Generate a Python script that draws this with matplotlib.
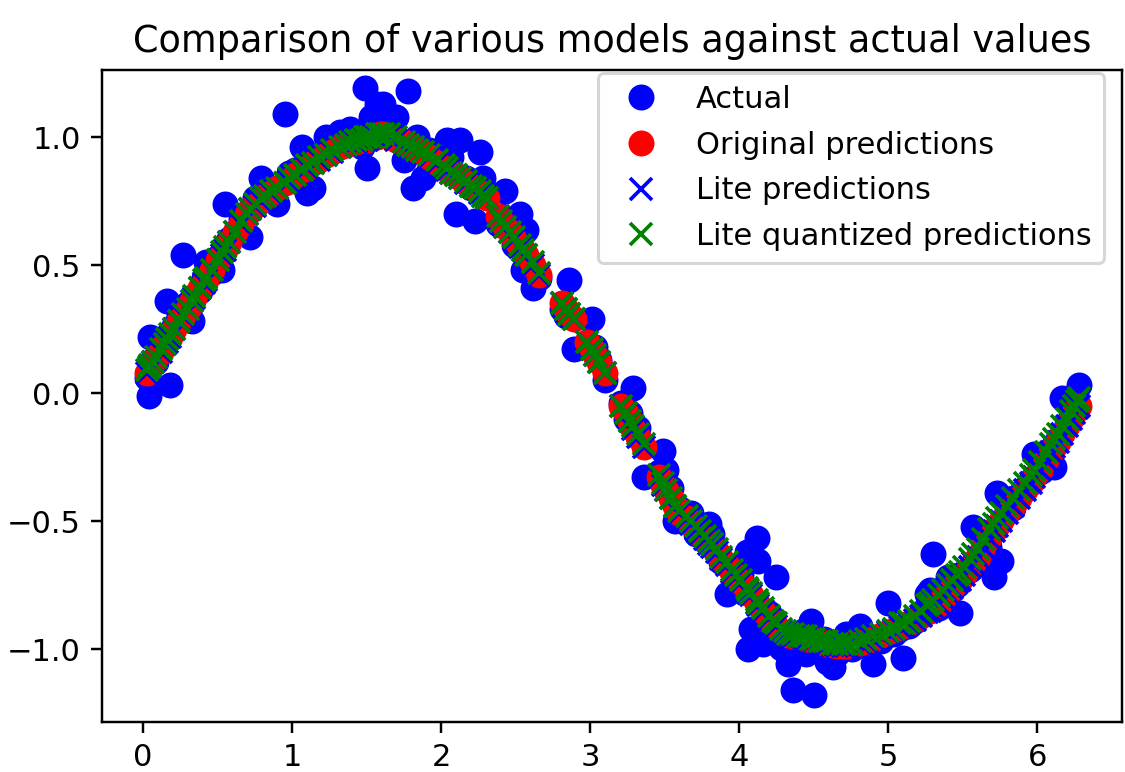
import matplotlib
matplotlib.use("Agg")
import matplotlib.pyplot as plt

# test inputs (radians) and the four series plotted against them
x_test = [
    0.03, 0.04, 0.05, 0.07, 0.09, 0.12, 0.15, 0.16, 0.18, 0.21,
    0.24, 0.27, 0.30, 0.33, 0.34, 0.38, 0.41, 0.42, 0.46, 0.50,
    0.53, 0.55, 0.58, 0.62, 0.66, 0.70, 0.72, 0.75, 0.79, 0.82,
    0.86, 0.90, 0.95, 0.98, 1.02, 1.07, 1.10, 1.14, 1.18, 1.23,
    1.27, 1.32, 1.36, 1.39, 1.43, 1.47, 1.49, 1.50, 1.53, 1.57,
    1.59, 1.61, 1.65, 1.70, 1.75, 1.78, 1.81, 1.84, 1.88, 1.92,
    1.97, 2.02, 2.04, 2.07, 2.10, 2.13, 2.17, 2.20, 2.23, 2.26,
    2.28, 2.31,
    2.38, 2.40, 2.43, 2.46, 2.49, 2.53, 2.55, 2.57, 2.62, 2.66,
    2.81, 2.84, 2.86, 2.89,
    2.98, 3.01, 3.03, 3.06, 3.10,
    3.21, 3.24, 3.27, 3.29, 3.32, 3.36,
    3.46, 3.49, 3.51, 3.54, 3.57, 3.60,
    3.65, 3.68, 3.71, 3.74, 3.77, 3.80, 3.82, 3.85, 3.88, 3.92,
    3.95, 3.98, 4.01, 4.05, 4.06, 4.08, 4.12, 4.13, 4.16, 4.20,
    4.23, 4.25, 4.28, 4.31, 4.33, 4.36, 4.40, 4.43, 4.45, 4.48,
    4.50, 4.54, 4.57, 4.59, 4.63, 4.66, 4.70, 4.72, 4.76, 4.81,
    4.85, 4.90, 4.95, 5.00, 5.04, 5.08, 5.10, 5.14, 5.18, 5.22,
    5.26, 5.28, 5.30, 5.34, 5.37, 5.40, 5.43, 5.46, 5.48, 5.51,
    5.55, 5.57, 5.60, 5.64, 5.68, 5.71, 5.73, 5.76, 5.80, 5.84,
    5.88, 5.92, 5.96, 5.98, 6.02, 6.06, 6.09, 6.11, 6.14, 6.17,
    6.20, 6.23, 6.25, 6.27, 6.28,
]

y_actual = [
    0.06, -0.01, 0.22, 0.13, 0.12, 0.18, 0.21, 0.36, 0.03, 0.26,
    0.31, 0.54, 0.35, 0.28, 0.38, 0.40, 0.45, 0.51, 0.47, 0.53,
    0.48, 0.74, 0.60, 0.62, 0.68, 0.70, 0.61, 0.76, 0.84, 0.78,
    0.80, 0.74, 1.09, 0.86, 0.87, 0.96, 0.78, 0.80, 0.93, 1.00,
    0.97, 1.02, 0.99, 1.03, 1.00, 0.96, 1.19, 0.88, 1.08, 1.13,
    1.09, 1.13, 1.05, 1.08, 0.91, 1.18, 0.80, 1.00, 0.84, 0.95,
    0.89, 0.95, 0.99, 0.92, 0.70, 0.99, 0.84, 0.80, 0.67, 0.94,
    0.84, 0.78,
    0.66, 0.69, 0.79, 0.64, 0.58, 0.70, 0.48, 0.635, 0.41, 0.45,
    0.33, 0.30, 0.44, 0.17,
    0.20, 0.29, 0.18, 0.13, 0.05,
    -0.04, -0.10, -0.08, 0.02, -0.135, -0.33,
    -0.31, -0.225, -0.30, -0.37, -0.50, -0.45,
    -0.50, -0.47, -0.55, -0.52, -0.58, -0.51, -0.55, -0.63, -0.66, -0.785,
    -0.68, -0.74, -0.71, -0.62, -1.00, -0.92, -0.565, -0.655, -0.98, -0.86,
    -0.92, -0.72, -0.996, -0.95, -1.06, -1.16, -0.97, -0.93, -1.02, -0.89,
    -1.18, -0.99, -0.96, -1.05, -1.07, -1.02, -0.98, -0.94, -1.00, -0.91,
    -0.99, -1.06, -0.97, -0.82, -0.94, -0.92, -1.035, -0.91, -0.89, -0.86,
    -0.785, -0.77, -0.63, -0.84, -0.79, -0.72, -0.77, -0.75, -0.86, -0.70,
    -0.69, -0.525, -0.64, -0.61, -0.60, -0.72, -0.39, -0.655, -0.46, -0.45,
    -0.40, -0.37, -0.34, -0.24, -0.31, -0.27, -0.22, -0.29, -0.18, -0.02,
    -0.12, -0.09, -0.07, -0.04, 0.03,
]

y_pred = [
    0.08, 0.09, 0.10, 0.12, 0.14, 0.16, 0.19, 0.20, 0.22, 0.25,
    0.28, 0.30, 0.33, 0.36, 0.37, 0.41, 0.43, 0.44, 0.48, 0.52,
    0.54, 0.56, 0.59, 0.63, 0.66, 0.70, 0.72, 0.73, 0.75, 0.77,
    0.78, 0.80, 0.82, 0.83, 0.85, 0.87, 0.88, 0.90, 0.91, 0.93,
    0.94, 0.96, 0.97, 0.98, 0.98, 0.99, 0.99, 0.99, 1.00, 1.00,
    1.01, 1.01, 1.00, 0.99, 0.98, 0.97, 0.96, 0.95, 0.94, 0.92,
    0.90, 0.88, 0.87, 0.86, 0.85, 0.84, 0.82, 0.81, 0.80, 0.78,
    0.77, 0.76,
    0.69, 0.67, 0.65, 0.63, 0.60, 0.57, 0.56, 0.54, 0.50, 0.46,
    0.35, 0.33, 0.31, 0.29,
    0.20, 0.17, 0.15, 0.12, 0.08,
    -0.05, -0.08, -0.11, -0.14, -0.17, -0.21,
    -0.33, -0.36, -0.38, -0.41, -0.44, -0.47,
    -0.49, -0.51, -0.53, -0.55, -0.57, -0.59, -0.60, -0.62, -0.65, -0.67,
    -0.70, -0.72, -0.74, -0.77, -0.78, -0.79, -0.82, -0.83, -0.85, -0.88,
    -0.90, -0.91, -0.93, -0.94, -0.945, -0.95, -0.95, -0.955, -0.96, -0.96,
    -0.965, -0.97, -0.975, -0.98, -0.985, -0.99, -0.99, -0.99, -0.98, -0.975,
    -0.97, -0.96, -0.945, -0.935, -0.925, -0.915, -0.91, -0.90, -0.885, -0.87,
    -0.855, -0.85, -0.84, -0.825, -0.80, -0.78, -0.76, -0.74, -0.73, -0.71,
    -0.68, -0.665, -0.64, -0.60, -0.565, -0.54, -0.52, -0.50, -0.47, -0.44,
    -0.41, -0.38, -0.35, -0.33, -0.30, -0.26, -0.23, -0.21, -0.19, -0.16,
    -0.13, -0.10, -0.08, -0.06, -0.05,
]

# the float TFLite model reproduces the original outputs
y_lite = y_pred

y_lite_quant = [
    0.09, 0.10, 0.11, 0.12, 0.14, 0.17, 0.19, 0.21, 0.23, 0.25,
    0.28, 0.31, 0.33, 0.36, 0.38, 0.41, 0.44, 0.45, 0.48, 0.52,
    0.55, 0.57, 0.59, 0.63, 0.67, 0.70, 0.72, 0.74, 0.76, 0.77,
    0.79, 0.80, 0.82, 0.84, 0.85, 0.87, 0.89, 0.90, 0.92, 0.93,
    0.95, 0.96, 0.97, 0.98, 0.99, 0.99, 1.00, 1.00, 1.00, 1.01,
    1.01, 1.01, 1.01, 1.00, 0.98, 0.97, 0.96, 0.95, 0.94, 0.93,
    0.91, 0.89, 0.88, 0.86, 0.85, 0.84, 0.83, 0.81, 0.80, 0.79,
    0.77, 0.76,
    0.69, 0.67, 0.65, 0.63, 0.61, 0.58, 0.56, 0.54, 0.51, 0.47,
    0.35, 0.33, 0.31, 0.29,
    0.20, 0.17, 0.15, 0.12, 0.08,
    -0.05, -0.08, -0.11, -0.13, -0.16, -0.20,
    -0.32, -0.35, -0.38, -0.41, -0.44, -0.46,
    -0.48, -0.50, -0.52, -0.54, -0.56, -0.58, -0.59, -0.61, -0.64, -0.66,
    -0.69, -0.71, -0.73, -0.76, -0.77, -0.78, -0.81, -0.82, -0.84, -0.87,
    -0.89, -0.90, -0.92, -0.93, -0.94, -0.94, -0.95, -0.95, -0.95, -0.96,
    -0.96, -0.97, -0.97, -0.97, -0.98, -0.98, -0.98, -0.98, -0.98, -0.97,
    -0.96, -0.95, -0.94, -0.93, -0.92, -0.90, -0.90, -0.89, -0.87, -0.85,
    -0.83, -0.82, -0.81, -0.79, -0.77, -0.75, -0.73, -0.71, -0.70, -0.68,
    -0.65, -0.63, -0.61, -0.57, -0.53, -0.51, -0.49, -0.47, -0.44, -0.41,
    -0.38, -0.35, -0.32, -0.30, -0.27, -0.23, -0.20, -0.18, -0.16, -0.13,
    -0.10, -0.07, -0.05, -0.03, -0.02,
]

# small default-style figure rendered at a high dpi
fig = plt.figure(figsize=(1125 / 220, 772 / 220), dpi=220)
ax = fig.add_axes([0.0907, 0.0648, 0.9067, 0.8446])

ms = 7.5
ax.plot(x_test, y_actual, "bo", ms=ms, label="Actual")
ax.plot(x_test, y_pred, "ro", ms=ms, label="Original predictions")
ax.plot(x_test, y_lite, "bx", ms=ms, mew=1.2, label="Lite predictions")
ax.plot(x_test, y_lite_quant, "gx", ms=ms, mew=1.2,
        label="Lite quantized predictions")

ax.set_xlim(-0.275, 6.57)
ax.set_ylim(-1.285, 1.262)
ax.set_title("Comparison of various models against actual values")
ax.legend(loc="upper right", bbox_to_anchor=(0.982, 0.996),
          borderaxespad=0.0, labelspacing=0.55)

fig.savefig("out.png", dpi=220)
